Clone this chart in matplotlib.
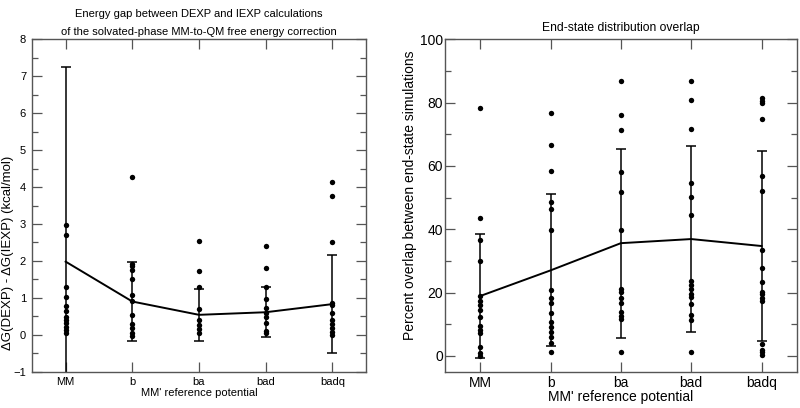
import matplotlib
matplotlib.use("Agg")
import matplotlib.pyplot as plt
from matplotlib.ticker import MultipleLocator

plt.rcParams['font.family'] = ['Liberation Sans', 'DejaVu Sans']

categories = ["MM", "b", "ba", "bad", "badq"]

# Left panel: energy gap points (kcal/mol)
gap_MM = [2.96, 2.69, 1.30, 1.03, 0.79, 0.65, 0.49, 0.40, 0.31, 0.22, 0.13, 0.04]
gap_b = [4.28, 1.92, 1.85, 1.76, 1.51, 1.08, 0.92, 0.54, 0.29, 0.18, 0.06, -0.03]
gap_ba = [2.54, 1.74, 1.30, 0.69, 0.40, 0.27, 0.15, 0.04]
gap_bad = [2.39, 1.80, 1.30, 0.96, 0.72, 0.58, 0.49, 0.31, 0.11, 0.04]
gap_badq = [4.13, 3.77, 2.50, 0.85, 0.81, 0.58, 0.40, 0.29, 0.18, 0.08, -0.01]
gap_mean = [1.98, 0.90, 0.54, 0.61, 0.83]
gap_sd = [5.27, 1.06, 0.70, 0.68, 1.32]

# Right panel: overlap points (percent)
ov_MM = [78.2, 43.6, 36.6, 30.1, 18.8, 17.2, 16.1, 14.5, 12.4, 9.3, 8.3, 7.2, 2.8, 0.9, 0.1]
ov_b = [76.6, 66.7, 58.3, 48.5, 46.5, 39.7, 20.8, 18.4, 16.6, 13.6, 10.7, 9.1, 7.5, 5.9, 4.2, 1.2]
ov_ba = [86.7, 76.1, 71.4, 58.1, 51.8, 39.9, 21.2, 20.1, 18.4, 16.7, 13.8, 12.7, 11.8, 1.2]
ov_bad = [86.7, 80.8, 71.8, 54.5, 50.1, 44.4, 23.6, 22.3, 21.2, 19.4, 18.6, 16.4, 13.0, 11.3, 1.3]
ov_badq = [81.3, 80.6, 79.9, 74.8, 56.7, 52.0, 33.4, 27.9, 23.3, 20.2, 19.4, 18.4, 17.3, 3.6, 2.0, 1.2, 0.4]
ov_mean = [18.9, 27.0, 35.6, 36.9, 34.7]
ov_sd = [19.5, 24.0, 29.8, 29.4, 30.0]

gap_pts = [gap_MM, gap_b, gap_ba, gap_bad, gap_badq]
ov_pts = [ov_MM, ov_b, ov_ba, ov_bad, ov_badq]

fig = plt.figure(figsize=(8, 4.08), dpi=100)
W, H = 800, 408
ax1 = fig.add_axes([32.3 / W, (H - 371.7) / H, (365.7 - 32.3) / W, (371.7 - 39.3) / H])
ax2 = fig.add_axes([445 / W, (H - 371.7) / H, (796.7 - 445) / W, (371.7 - 39.3) / H])

spine_col = "#555555"
xs = list(range(1, len(categories) + 1))


def draw(ax, pts, mean, sd, tick_fs, ypad, xpad):
    for x, vals in zip(xs, pts):
        ax.scatter([x] * len(vals), vals, s=15, color="black", zorder=3, linewidths=0)
    ax.errorbar(xs, mean, yerr=sd, fmt="none", ecolor="black", elinewidth=1.1,
                capsize=3.5, capthick=1.1, zorder=2)
    ax.plot(xs, mean, color="black", lw=1.4, zorder=2)
    ax.set_xlim(0.5, 5.5)
    ax.set_xticks(xs)
    ax.set_xticklabels(categories)
    for s in ax.spines.values():
        s.set_color(spine_col)
        s.set_linewidth(1.0)
    ax.tick_params(which="both", direction="in", top=True, right=True, colors=spine_col,
                   labelcolor="black", labelsize=tick_fs, width=0.9)
    ax.tick_params(which="major", length=7)
    ax.tick_params(which="minor", length=4.5)
    ax.tick_params(axis="y", pad=ypad)
    ax.tick_params(axis="x", pad=xpad)
    ax.tick_params(axis="x", which="minor", bottom=False, top=False)


draw(ax1, gap_pts, gap_mean, gap_sd, 8, 4.5, 3.5)
ax1.set_ylim(-1, 8)
ax1.yaxis.set_major_locator(MultipleLocator(1))
ax1.yaxis.set_minor_locator(MultipleLocator(0.5))
ax1.set_xlabel("MM' reference potential", fontsize=8, labelpad=1)
ax1.set_ylabel("\u0394G(DEXP) - \u0394G(IEXP) (kcal/mol)", fontsize=9.5)
ax1.yaxis.set_label_coords(-0.056, 0.357)
ax1.set_title("Energy gap between DEXP and IEXP calculations\nof the solvated-phase MM-to-QM free energy correction",
              fontsize=8, pad=3, linespacing=2.05)

draw(ax2, ov_pts, ov_mean, ov_sd, 10, 1.5, 3.0)
ax2.set_ylim(-5, 100)
ax2.yaxis.set_major_locator(MultipleLocator(20))
ax2.yaxis.set_minor_locator(MultipleLocator(10))
ax2.set_xlabel("MM' reference potential", fontsize=10, labelpad=0)
ax2.set_ylabel("Percent overlap between end-state simulations", fontsize=10)
ax2.yaxis.set_label_coords(-0.081, 0.532)
ax2.set_title("End-state distribution overlap", fontsize=8.7, pad=6)

fig.savefig("out.png", dpi=100)
